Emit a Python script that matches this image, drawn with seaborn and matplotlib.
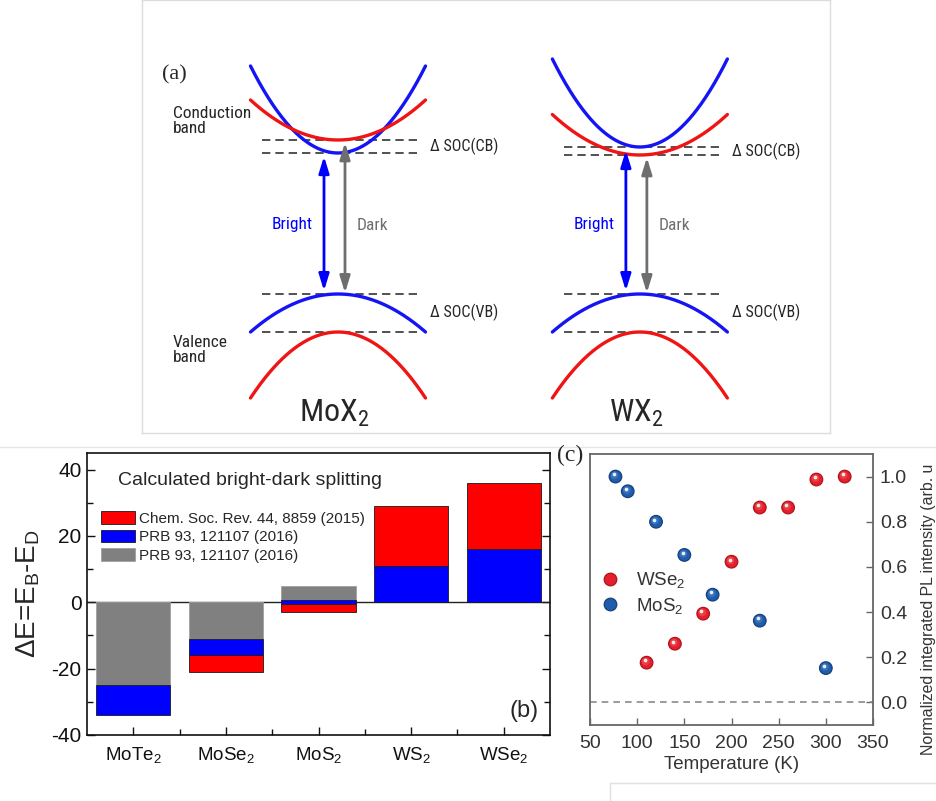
import numpy as np
import pandas as pd
import matplotlib
matplotlib.use("Agg")
import matplotlib.pyplot as plt
import matplotlib.transforms as mtransforms
from matplotlib.lines import Line2D
from matplotlib import font_manager
import seaborn as sns

# (a) band schematic: energies in arbitrary units, top of upper valence band = 0
schemes = ["MoX$_2$", "WX$_2$"]
cb_bright_min = [1.41, 1.47]
cb_bright_edge = [2.28, 2.35]
cb_dark_min = [1.54, 1.39]
cb_dark_edge = [1.94, 1.795]
vb_upper_max = [0.0, 0.0]
vb_upper_edge = [-0.38, -0.38]
vb_lower_max = [-0.38, -0.38]
vb_lower_edge = [-1.04, -1.04]

# (b) bright-dark splitting (meV)
compounds = ["MoTe$_2$", "MoSe$_2$", "MoS$_2$", "WS$_2$", "WSe$_2$"]
gray_top = [-25, -11, 5, np.nan, np.nan]
blue_bottom = [-25, -11, -0.5, 0, 0]
blue_top = [-34, -16, 0.6, 11, 16]
red_bottom = [np.nan, -16, -0.5, 11, 16]
red_top = [np.nan, -21, -3, 29, 36]
ref_labels = ["Chem. Soc. Rev. 44, 8859 (2015)",
              "PRB 93, 121107 (2016)",
              "PRB 93, 121107 (2016)"]

# (c) normalized integrated PL intensity
temp_wse2 = [110, 140, 170, 200, 230, 260, 290, 320]
pl_wse2 = [0.176, 0.26, 0.393, 0.623, 0.863, 0.863, 0.987, 1.0]
temp_mos2 = [77, 90, 120, 150, 180, 230, 300]
pl_mos2 = [1.0, 0.935, 0.80, 0.653, 0.477, 0.362, 0.152]

sns.set_theme(style="ticks")
plt.rcParams["font.family"] = ["Liberation Sans", "DejaVu Sans"]
plt.rcParams["mathtext.default"] = "regular"
plt.rcParams["axes.unicode_minus"] = False

installed = {f.name for f in font_manager.fontManager.ttflist}
narrow = [f for f in ["Roboto Condensed", "Open Sans Condensed", "DejaVu Sans Condensed"]
          if f in installed] + ["DejaVu Sans"]
NARROW = dict(family=narrow, stretch="condensed")

W, H = 936, 801
fig = plt.figure(figsize=(W / 100, H / 100), dpi=100)


def box(x0, y0, x1, y1):
    return [x0 / W, 1 - y1 / H, (x1 - x0) / W, (y1 - y0) / H]


BLUE, RED, GRAY = "#1414f5", "#f01414", "#6e6e6e"

# ---------------- panel (a) ----------------
ax_a = fig.add_axes(box(142, 0, 830, 433))
ax_a.set_xlim(0, 688 / 87.5)
ax_a.set_ylim(-1.39, 2.94)
ax_a.set_xticks([])
ax_a.set_yticks([])
for s in ax_a.spines.values():
    s.set_color("#dcdcdc")
    s.set_linewidth(1)

centers = [2.24, 5.69]
k = np.linspace(-1, 1, 200)


def band(e0, e1, kk):
    return e0 + (e1 - e0) * kk ** 2


for i, c in enumerate(centers):
    ax_a.plot(c + k, band(cb_bright_min[i], cb_bright_edge[i], k), color=BLUE, lw=2.4)
    ax_a.plot(c + k, band(cb_dark_min[i], cb_dark_edge[i], k), color=RED, lw=2.4)
    ax_a.plot(c + k, band(vb_upper_max[i], vb_upper_edge[i], k), color=BLUE, lw=2.4)
    ax_a.plot(c + k, band(vb_lower_max[i], vb_lower_edge[i], k), color=RED, lw=2.4)

    for lev in [cb_bright_min[i], cb_dark_min[i], vb_upper_max[i], vb_lower_max[i]]:
        ln, = ax_a.plot([c - 0.87, c + 0.94], [lev, lev], color="#333333", lw=1.2, zorder=1)
        ln.set_dashes((5, 3))

    kb, kd = -0.16, 0.08
    ax_a.annotate("", xy=(c + kb, band(vb_upper_max[i], vb_upper_edge[i], kb)),
                  xytext=(c + kb, band(cb_bright_min[i], cb_bright_edge[i], kb)),
                  arrowprops=dict(arrowstyle="<|-|>,head_length=0.55,head_width=0.17",
                                  color="#0000ff", lw=2, shrinkA=4, shrinkB=3,
                                  mutation_scale=18))
    ax_a.annotate("", xy=(c + kd, band(vb_upper_max[i], vb_upper_edge[i], kd)),
                  xytext=(c + kd, band(cb_dark_min[i], cb_dark_edge[i], kd)),
                  arrowprops=dict(arrowstyle="<|-|>,head_length=0.55,head_width=0.17",
                                  color=GRAY, lw=2, shrinkA=2, shrinkB=1,
                                  mutation_scale=18))
    ax_a.text(c - 0.52, 0.69, "Bright", color="#0000ff", fontsize=12.5, **NARROW,
              ha="center", va="center")
    ax_a.text(c + 0.39, 0.69, "Dark", color=GRAY, fontsize=12.5, **NARROW,
              ha="center", va="center")
    ax_a.text(c + 1.05, (cb_bright_min[i] + cb_dark_min[i]) / 2, "Δ SOC(CB)",
              fontsize=11.5, **NARROW, ha="left", va="center")
    ax_a.text(c + 1.05, (vb_upper_max[i] + vb_lower_max[i]) / 2 + 0.01, "Δ SOC(VB)",
              fontsize=11.5, **NARROW, ha="left", va="center")
    ax_a.text(c - 0.04, -1.28, schemes[i], fontsize=23, **NARROW,
              ha="center", va="baseline")

ax_a.text(0.23, 2.19, "(a)", fontsize=16, family=["Liberation Serif", "DejaVu Serif"],
          ha="left", va="center")
ax_a.text(0.354, 1.73, "Conduction\nband", fontsize=12.5, **NARROW,
          ha="left", va="center", linespacing=1.05)
ax_a.text(0.354, -0.56, "Valence\nband", fontsize=12.5, **NARROW,
          ha="left", va="center", linespacing=1.05)

# light frame lines of the composite
fig.add_artist(Line2D([0, 1], [1 - 447 / H, 1 - 447 / H], color="#e6e6e6", lw=1,
                      transform=fig.transFigure, zorder=0))
fig.add_artist(Line2D([610 / W, 1], [1 - 783 / H, 1 - 783 / H], color="#e0e0e0", lw=1,
                      transform=fig.transFigure))
fig.add_artist(Line2D([610 / W, 610 / W], [1 - 783 / H, 0], color="#e0e0e0", lw=1,
                      transform=fig.transFigure))

# ---------------- panel (b) ----------------
ax_b = fig.add_axes(box(87, 453, 550, 735))
x = np.arange(len(compounds))


def segments(bottom, top, color, ec):
    b = np.asarray(bottom, float)
    t = np.asarray(top, float)
    m = ~np.isnan(t)
    return ax_b.bar(x[m], t[m] - b[m], bottom=b[m], width=0.8, color=color,
                    edgecolor=ec, linewidth=0.6, zorder=2)


ax_b.axhline(0, color="#222222", lw=1, zorder=1.5)
h_gray = segments(np.zeros(len(x)), gray_top, "#808080", "#a0a0a0")
h_blue = segments(blue_bottom, blue_top, "#0000ff", "#1a1a1a")
h_red = segments(red_bottom, red_top, "#ff0000", "#1a1a1a")

ax_b.set_xlim(-0.5, 4.5)
ax_b.set_ylim(-40, 45)
ax_b.set_xticks(x, compounds)
ax_b.set_xticks(x[:-1] + 0.5, minor=True)
ax_b.set_yticks([-40, -20, 0, 20, 40])
ax_b.set_yticks([-30, -10, 10, 30], minor=True)
ax_b.tick_params(which="both", direction="in", left=True, right=True, top=False,
                 bottom=True, width=1, colors="#111111")
ax_b.tick_params(which="major", length=6)
ax_b.tick_params(which="minor", length=4)
ax_b.tick_params(axis="x", pad=7, labelsize=13.5)
ax_b.tick_params(axis="y", pad=4, labelsize=15)
for s in ax_b.spines.values():
    s.set_color("#111111")
    s.set_linewidth(1.2)
ax_b.set_ylabel("ΔE=E$_B$-E$_D$", fontsize=20)
ax_b.yaxis.set_label_coords(-0.097, 0.5)

ax_b.text(0.067, 0.904, "Calculated bright-dark splitting", transform=ax_b.transAxes,
          fontsize=14, ha="left", va="center")
ax_b.text(0.944, 0.085, "(b)", transform=ax_b.transAxes, fontsize=17,
          ha="center", va="center")
ax_b.legend([h_red, h_blue, h_gray], ref_labels, loc="center left",
            bbox_to_anchor=(0.030, 0.702), frameon=False, fontsize=11,
            handlelength=2.2, handleheight=0.9, handletextpad=0.3,
            labelspacing=0.25, borderpad=0, borderaxespad=0)

# ---------------- panel (c) ----------------
ax_c = fig.add_axes(box(590, 454, 873, 725))
df = pd.DataFrame({
    "Temperature": temp_wse2 + temp_mos2,
    "PL": pl_wse2 + pl_mos2,
    "Sample": ["WSe$_2$"] * len(temp_wse2) + ["MoS$_2$"] * len(temp_mos2),
})
pal = {"WSe$_2$": "#e3202b", "MoS$_2$": "#1f5cab"}
edge = {"WSe$_2$": "#b0141c", "MoS$_2$": "#16407d"}
light = {"WSe$_2$": "#f2545c", "MoS$_2$": "#4a82cc"}
sns.scatterplot(data=df, x="Temperature", y="PL", hue="Sample", palette=pal,
                s=82, linewidth=0, ax=ax_c, zorder=3)
dots = ax_c.collections[0]
dots.set_edgecolors([edge[v] for v in df["Sample"]])
dots.set_linewidths(0.9)
glow = mtransforms.offset_copy(ax_c.transData, fig=fig, x=-1.0, y=1.2, units="dots")
ax_c.scatter(df["Temperature"], df["PL"], s=30, color=[light[v] for v in df["Sample"]],
             alpha=0.6, linewidth=0, transform=glow, zorder=4)
shine = mtransforms.offset_copy(ax_c.transData, fig=fig, x=-1.8, y=2.2, units="dots")
ax_c.scatter(df["Temperature"], df["PL"], s=7, color="white", alpha=0.9,
             linewidth=0, transform=shine, zorder=5)
ax_c.axhline(0, color="#8a8a8a", lw=1.2, ls=(0, (4, 3)), zorder=1)

ax_c.set_xlim(50, 350)
ax_c.set_ylim(-0.1, 1.1)
ax_c.set_xticks([50, 100, 150, 200, 250, 300, 350])
ax_c.set_yticks([0.0, 0.2, 0.4, 0.6, 0.8, 1.0])
ax_c.yaxis.tick_right()
ax_c.tick_params(direction="in", length=5, width=1, colors="#666666",
                 labelcolor="#333333", labelsize=14)
ax_c.tick_params(axis="y", left=False, right=True, labelleft=False, labelright=True, pad=5)
ax_c.tick_params(axis="x", pad=7)
for s in ax_c.spines.values():
    s.set_color("#666666")
    s.set_linewidth(1.3)
ax_c.set_ylabel("")
ax_c.set_xlabel("Temperature (K)", fontsize=13.5, color="#333333", labelpad=3)

handles, labels = ax_c.get_legend_handles_labels()
for h, lab in zip(handles, labels):
    h.set_markeredgecolor(edge[lab])
    h.set_markeredgewidth(0.9)
ax_c.legend(handles, labels, loc="center left", bbox_to_anchor=(0.039, 0.487),
            frameon=False, fontsize=13.5, handlelength=1.0, handletextpad=0.85,
            labelspacing=0.3, borderpad=0, borderaxespad=0, labelcolor="#333333")

fig.text(557 / W, 1 - 455 / H, "(c)", fontsize=17,
         family=["Liberation Serif", "DejaVu Serif"], ha="left", va="center")
fig.text(929 / W, 1 - 755 / H, "Normalized integrated PL intensity (arb. u",
         rotation=90, fontsize=11.4, color="#333333", ha="center", va="bottom")

fig.savefig("out.png", dpi=100)
